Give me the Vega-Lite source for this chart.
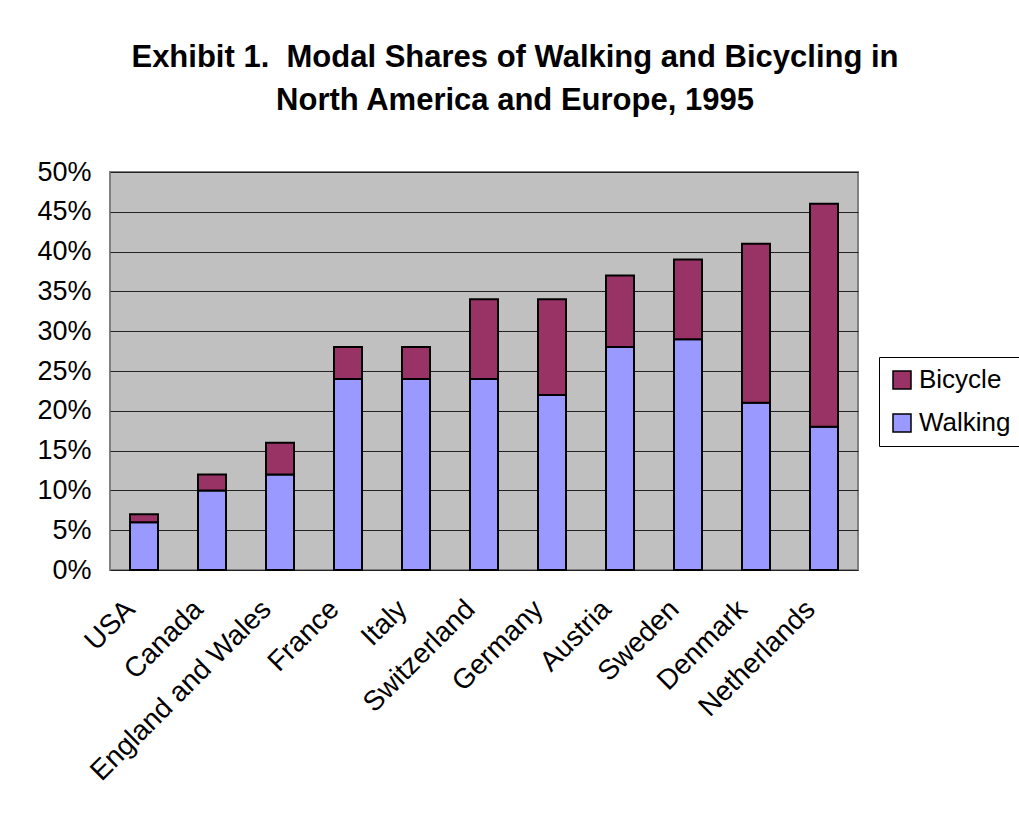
{
  "$schema": "https://vega.github.io/schema/vega-lite/v6.json",
  "autosize": "none",
  "width": 748,
  "height": 398,
  "padding": {"left": 110, "top": 172, "right": 161, "bottom": 244},
  "background": "white",
  "title": {
    "text": ["Exhibit 1.\u00a0 Modal Shares of Walking and Bicycling in", "North America and Europe, 1995"],
    "font": "Liberation Sans",
    "fontSize": 31,
    "fontWeight": "bold",
    "color": "black",
    "lineHeight": 43,
    "anchor": "middle",
    "dx": 31,
    "offset": 41
  },
  "data": {
    "values": [
      {"country": "USA", "mode": "Walking", "share": 0.06},
      {"country": "USA", "mode": "Bicycle", "share": 0.01},
      {"country": "Canada", "mode": "Walking", "share": 0.10},
      {"country": "Canada", "mode": "Bicycle", "share": 0.02},
      {"country": "England and Wales", "mode": "Walking", "share": 0.12},
      {"country": "England and Wales", "mode": "Bicycle", "share": 0.04},
      {"country": "France", "mode": "Walking", "share": 0.24},
      {"country": "France", "mode": "Bicycle", "share": 0.04},
      {"country": "Italy", "mode": "Walking", "share": 0.24},
      {"country": "Italy", "mode": "Bicycle", "share": 0.04},
      {"country": "Switzerland", "mode": "Walking", "share": 0.24},
      {"country": "Switzerland", "mode": "Bicycle", "share": 0.10},
      {"country": "Germany", "mode": "Walking", "share": 0.22},
      {"country": "Germany", "mode": "Bicycle", "share": 0.12},
      {"country": "Austria", "mode": "Walking", "share": 0.28},
      {"country": "Austria", "mode": "Bicycle", "share": 0.09},
      {"country": "Sweden", "mode": "Walking", "share": 0.29},
      {"country": "Sweden", "mode": "Bicycle", "share": 0.10},
      {"country": "Denmark", "mode": "Walking", "share": 0.21},
      {"country": "Denmark", "mode": "Bicycle", "share": 0.20},
      {"country": "Netherlands", "mode": "Walking", "share": 0.18},
      {"country": "Netherlands", "mode": "Bicycle", "share": 0.28}
    ]
  },
  "mark": {"type": "bar", "size": 28, "stroke": "black", "strokeWidth": 2},
  "encoding": {
    "x": {
      "field": "country",
      "type": "nominal",
      "sort": null,
      "title": null,
      "axis": {
        "labelAngle": -45,
        "labelAlign": "right",
        "labelBaseline": "top",
        "labelFont": "Liberation Sans",
        "labelFontSize": 28,
        "labelColor": "black",
        "labelPadding": 25,
        "labelOffset": -23,
        "ticks": false,
        "domain": false,
        "labelLimit": 400
      }
    },
    "y": {
      "field": "share",
      "type": "quantitative",
      "stack": "zero",
      "scale": {"domain": [0, 0.5], "nice": false},
      "title": null,
      "axis": {
        "values": [0, 0.05, 0.1, 0.15, 0.2, 0.25, 0.3, 0.35, 0.4, 0.45, 0.5],
        "format": ".0%",
        "labelFont": "Liberation Sans",
        "labelFontSize": 27,
        "labelColor": "black",
        "labelPadding": 19,
        "ticks": false,
        "domain": false,
        "grid": true,
        "gridColor": "#222222",
        "gridWidth": 1
      }
    },
    "color": {
      "field": "mode",
      "type": "nominal",
      "scale": {"domain": ["Bicycle", "Walking"], "range": ["#993366", "#9999FF"]},
      "legend": {
        "title": null,
        "orient": "none",
        "legendX": 769,
        "legendY": 185,
        "symbolType": "square",
        "symbolSize": 324,
        "symbolStrokeColor": "black",
        "symbolStrokeWidth": 1.5,
        "labelFont": "Liberation Sans",
        "labelFontSize": 26,
        "labelColor": "black",
        "labelOffset": 4,
        "rowPadding": 17,
        "strokeColor": "black",
        "padding": 10,
        "fillColor": "white"
      }
    },
    "order": {"field": "mode", "sort": "descending"}
  },
  "config": {
    "view": {"fill": "#C0C0C0", "stroke": "#808080", "strokeWidth": 2}
  }
}
